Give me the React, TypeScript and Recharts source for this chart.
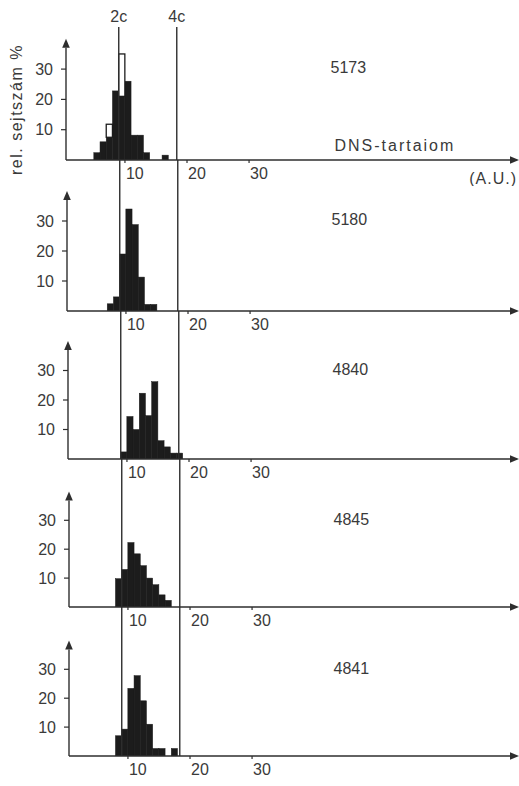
import React from 'react';
import { ComposedChart, Bar, XAxis, YAxis, ReferenceLine, ReferenceDot } from 'recharts';

// lower edge of each 1 A.U. wide class of DNS content
const BIN_START = [4, 5, 6, 7, 8, 9, 10, 11, 12, 13, 14, 15, 16, 17, 18, 19];

// rel. sejtszám % for each class
const S5173 = [0, 2.4, 6, 7.5, 22.8, 21, 26, 8.2, 8.2, 2.4, 0, 0, 1.6, 0, 0, 0];
const S5173_OPEN = [0, 0, 0, 11.8, 0, 35, 0, 0, 0, 0, 0, 0, 0, 0, 0, 0]; // open (white) columns
const S5180 = [0, 0, 0, 2.4, 4.7, 19, 34, 28.8, 11.3, 2.2, 2.2, 0, 0, 0, 0, 0];
const S4840 = [0, 0, 0, 0, 0, 2.4, 14.4, 10, 22.3, 14.7, 26.2, 6.2, 4.1, 2, 2, 0];
const S4845 = [0, 0, 0, 0, 9.8, 13, 22.3, 18.4, 14.3, 10, 7.7, 4.2, 2.3, 0, 0, 0];
const S4841 = [0, 0, 0, 0, 7, 9.3, 23.4, 27.8, 19.1, 11, 2.6, 2.6, 0, 2.6, 0, 0];

const SAMPLES = ['5173', '5180', '4840', '4845', '4841'];
const SERIES = [S5173, S5180, S4840, S4845, S4841];
const X_TICKS = [10, 20, 30];
const Y_TICKS = [10, 20, 30];
const TWO_C = 9;
const FOUR_C = 18.35;
const Y_ARROW_TOP = 40;

// layout
const W = 519;
const Y_AXIS_W = 66;
const X_AXIS_H = 26;
const X_MIN = 0.5;
const PX_PER_UNIT = (W - Y_AXIS_W) / 73;
const PANELS = [
  { top: 27, axis: 160, pxPerPct: 3.03, shift: 0 },
  { top: 160, axis: 311, pxPerPct: 3.0, shift: 1 },
  { top: 311, axis: 459, pxPerPct: 2.95, shift: 2 },
  { top: 459, axis: 607, pxPerPct: 2.89, shift: 3 },
  { top: 607, axis: 756, pxPerPct: 2.89, shift: 3 },
];

const INK = '#1c1c1c';
const LINE = '#2e2e2e';
const TEXT = '#3a3a3a';
const FONT = '"Liberation Sans", Arial, sans-serif';

// histogram columns: keep the bar's centre, but make it one full class wide so neighbours touch
const column = (fill: string, stroke: string, sw: number) => (props: any) => {
  const { x, y, width, height } = props;
  if (!height || height <= 0) return <g />;
  const cx = x + width / 2;
  return (
    <rect
      x={cx - PX_PER_UNIT / 2}
      y={y}
      width={PX_PER_UNIT}
      height={height}
      fill={fill}
      stroke={stroke}
      strokeWidth={sw}
    />
  );
};

const arrowLine = (props: any) => {
  const { x1, y1, x2, y2 } = props;
  const ang = Math.atan2(y2 - y1, x2 - x1);
  const len = 9;
  const half = 3.8;
  const bx = x2 - len * Math.cos(ang);
  const by = y2 - len * Math.sin(ang);
  const px = -Math.sin(ang) * half;
  const py = Math.cos(ang) * half;
  return (
    <g>
      <line x1={x1} y1={y1} x2={bx} y2={by} stroke={LINE} strokeWidth={1.4} />
      <polygon points={`${x2},${y2} ${bx + px},${by + py} ${bx - px},${by - py}`} fill={LINE} />
    </g>
  );
};

const XTick = ({ x, y, payload }: any) => (
  <text x={x + 1} y={y + 3} dy="0.71em" textAnchor="start" fill={TEXT} fontSize={16} fontFamily={FONT}>
    {payload.value}
  </text>
);

const yTitle = ({ viewBox }: any) => (
  <text
    transform={`translate(${viewBox.x + 22},${viewBox.y + viewBox.height / 2 + 16}) rotate(-90)`}
    textAnchor="middle"
    fill={TEXT}
    fontSize={16}
    fontFamily={FONT}
    letterSpacing={1.5}
  >
    rel. sejtszám %
  </text>
);

function Panel({ index }: { index: number }) {
  const p = PANELS[index];
  const first = index === 0;
  const values = SERIES[index];
  const mt = first ? p.top : 0;
  const plotH = p.axis - p.top;
  const yMax = plotH / p.pxPerPct;
  const width = W - p.shift;
  const xMax = X_MIN + (width - Y_AXIS_W) / PX_PER_UNIT;

  const rows = BIN_START.map((b, i) => ({
    x: b + 0.5,
    dark: values[i],
    open: first ? Math.max(0, S5173_OPEN[i] - values[i]) : 0,
  }));

  const labelStyle = { fill: TEXT, fontSize: 16, fontFamily: FONT };

  return (
    <div style={{ position: 'absolute', left: p.shift, top: p.top - mt }}>
      <ComposedChart
        width={width}
        height={mt + plotH + X_AXIS_H}
        data={rows}
        margin={{ top: mt, right: 0, bottom: 0, left: 0 }}
        barCategoryGap={0}
        barGap={0}
      >
        <XAxis
          type="number"
          dataKey="x"
          domain={[X_MIN, xMax]}
          ticks={X_TICKS}
          allowDataOverflow
          axisLine={false}
          tickSize={3}
          tickLine={{ stroke: LINE, strokeWidth: 1.2 }}
          height={X_AXIS_H}
          tick={XTick}
          label={
            first
              ? { value: '(A.U.)', position: 'insideBottomRight', offset: 2, ...labelStyle, letterSpacing: 1 }
              : undefined
          }
        />
        <YAxis
          type="number"
          width={Y_AXIS_W}
          domain={[0, yMax]}
          ticks={Y_TICKS}
          allowDataOverflow
          axisLine={false}
          tickSize={5}
          tickMargin={8}
          tickLine={{ stroke: LINE, strokeWidth: 1.2 }}
          tick={labelStyle}
          label={first ? { content: yTitle } : undefined}
        />
        <Bar dataKey="dark" stackId="h" fill={INK} shape={column(INK, INK, 0.5)} isAnimationActive={false} />
        <Bar dataKey="open" stackId="h" fill="#fff" shape={column('#fff', INK, 1.3)} isAnimationActive={false} />
        <ReferenceLine
          x={TWO_C}
          stroke={LINE}
          strokeWidth={1.4}
          label={first ? { value: '2c', position: 'top', offset: 5, ...labelStyle } : undefined}
        />
        <ReferenceLine
          x={FOUR_C}
          stroke={LINE}
          strokeWidth={1.4}
          label={first ? { value: '4c', position: 'top', offset: 5, ...labelStyle } : undefined}
        />
        <ReferenceLine segment={[{ x: X_MIN, y: 0 }, { x: xMax, y: 0 }]} shape={arrowLine} />
        <ReferenceLine segment={[{ x: X_MIN, y: 0 }, { x: X_MIN, y: Y_ARROW_TOP }]} shape={arrowLine} />
        <ReferenceDot
          x={46}
          y={30.5}
          r={0}
          fill="none"
          stroke="none"
          label={{ value: SAMPLES[index], position: 'center', ...labelStyle }}
        />
        {first && (
          <ReferenceDot
            x={53.5}
            y={5}
            r={0}
            fill="none"
            stroke="none"
            label={{ value: 'DNS-tartaiom', position: 'center', ...labelStyle, letterSpacing: 2 }}
          />
        )}
      </ComposedChart>
    </div>
  );
}

export default function App() {
  return (
    <div
      style={{
        position: 'absolute',
        left: 0,
        top: 0,
        width: W,
        height: 786,
        overflow: 'hidden',
        background: '#fff',
      }}
    >
      {PANELS.map((_, i) => (
        <Panel key={SAMPLES[i]} index={i} />
      ))}
    </div>
  );
}
